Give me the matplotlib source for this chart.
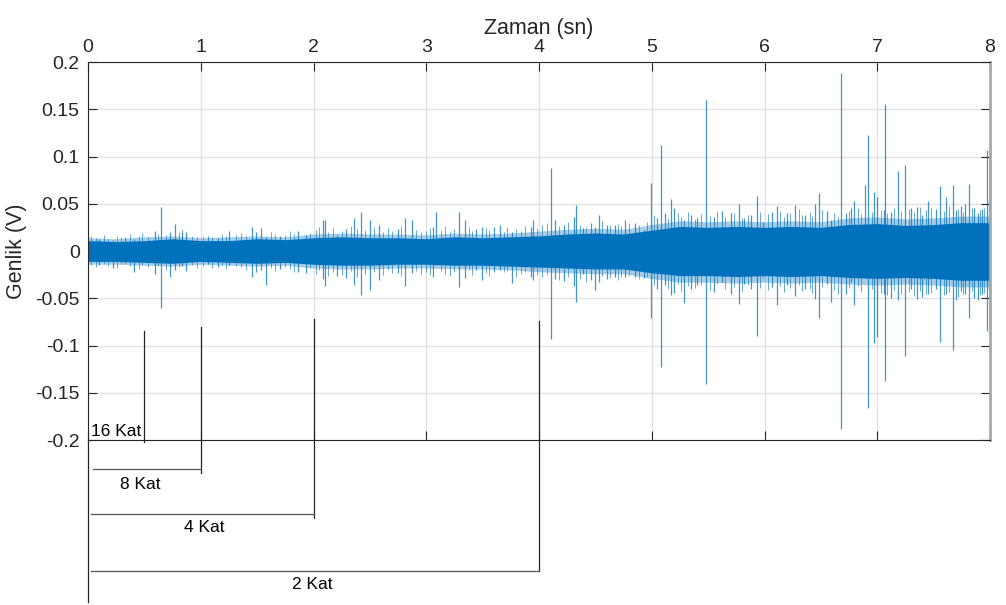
import numpy as np
import matplotlib
matplotlib.use("Agg")
import matplotlib.pyplot as plt

plt.rcParams["font.family"] = ["Liberation Sans", "DejaVu Sans"]

# ---- data ----
# dense core of the signal (upper / lower envelope), every 0.25 s
t_env = [0.0, 0.25, 0.5, 0.75, 1.0, 1.25, 1.5, 1.75, 2.0, 2.25, 2.5, 2.75, 3.0,
         3.25, 3.5, 3.75, 4.0, 4.25, 4.5, 4.75, 5.0, 5.25, 5.5, 5.75, 6.0, 6.25,
         6.5, 6.75, 7.0, 7.25, 7.5, 7.75, 8.0]
core_hi = [0.011, 0.010, 0.011, 0.013, 0.011, 0.011, 0.013, 0.012, 0.014, 0.015,
           0.014, 0.014, 0.013, 0.015, 0.014, 0.015, 0.016, 0.018, 0.019, 0.018,
           0.022, 0.026, 0.025, 0.026, 0.025, 0.026, 0.025, 0.028, 0.029, 0.027,
           0.028, 0.030, 0.030]
core_lo = [-0.011, -0.011, -0.012, -0.013, -0.011, -0.012, -0.013, -0.012, -0.014,
           -0.015, -0.015, -0.014, -0.014, -0.015, -0.015, -0.016, -0.017, -0.018,
           -0.019, -0.019, -0.023, -0.026, -0.026, -0.027, -0.026, -0.027, -0.026,
           -0.028, -0.029, -0.028, -0.029, -0.031, -0.031]
fringe_hi = [0.014, 0.013, 0.015, 0.016, 0.014, 0.015, 0.016, 0.015, 0.018, 0.019,
             0.018, 0.018, 0.017, 0.019, 0.018, 0.019, 0.021, 0.023, 0.024, 0.023,
             0.028, 0.032, 0.031, 0.032, 0.031, 0.032, 0.031, 0.035, 0.036, 0.034,
             0.035, 0.037, 0.037]
fringe_lo = [-0.014, -0.014, -0.015, -0.016, -0.014, -0.015, -0.016, -0.015, -0.018,
             -0.019, -0.019, -0.018, -0.018, -0.019, -0.019, -0.020, -0.022, -0.023,
             -0.024, -0.024, -0.029, -0.033, -0.033, -0.034, -0.033, -0.034, -0.033,
             -0.035, -0.036, -0.035, -0.036, -0.038, -0.038]

# short "grass" strokes around the core
grass_t = [0.03, 0.07, 0.14, 0.18, 0.26, 0.29, 0.37, 0.45, 0.48, 0.53, 0.62, 0.69, 0.81, 0.92, 0.97,
           1.02, 1.10, 1.19, 1.22, 1.31, 1.36, 1.40, 1.62, 1.66, 1.75, 1.79, 1.83, 1.97,
           2.02, 2.05, 2.13, 2.17, 2.25, 2.33, 2.39, 2.46, 2.54, 2.62, 2.66, 2.70, 2.78, 2.91, 2.95,
           3.00, 3.03, 3.13, 3.17, 3.21, 3.25, 3.38, 3.41, 3.53, 3.56, 3.69, 3.72, 3.80, 3.84, 3.88, 3.98,
           4.03, 4.07, 4.18, 4.26, 4.36, 4.42, 4.56, 4.63, 4.70, 4.73, 4.80, 4.89, 4.96,
           5.02, 5.14, 5.23, 5.26, 5.32, 5.38, 5.44, 5.52, 5.58, 5.65, 5.73, 5.80, 5.85, 5.96,
           6.03, 6.14, 6.17, 6.23, 6.31, 6.33, 6.40, 6.42, 6.51, 6.62, 6.65, 6.75, 6.83, 6.86, 6.95,
           7.03, 7.09, 7.15, 7.21, 7.28, 7.33, 7.38, 7.43, 7.48, 7.59, 7.64, 7.72, 7.76, 7.84, 7.91, 7.95]
grass_top = [0.016, 0.014, 0.017, 0.013, 0.016, 0.015, 0.018, 0.016, 0.019, 0.015, 0.018, 0.017, 0.020, 0.016, 0.015,
             0.016, 0.015, 0.018, 0.016, 0.017, 0.019, 0.016, 0.020, 0.018, 0.017, 0.021, 0.018, 0.019,
             0.022, 0.025, 0.020, 0.024, 0.021, 0.026, 0.023, 0.022, 0.025, 0.020, 0.024, 0.021, 0.026, 0.022, 0.020,
             0.021, 0.024, 0.022, 0.026, 0.020, 0.023, 0.025, 0.021, 0.024, 0.022, 0.020, 0.025, 0.023, 0.021, 0.026, 0.024,
             0.027, 0.030, 0.026, 0.031, 0.028, 0.025, 0.032, 0.027, 0.029, 0.026, 0.030, 0.028, 0.031,
             0.038, 0.035, 0.040, 0.036, 0.041, 0.034, 0.039, 0.037, 0.042, 0.036, 0.040, 0.035, 0.038, 0.041,
             0.039, 0.042, 0.036, 0.040, 0.044, 0.038, 0.041, 0.037, 0.043, 0.040, 0.036, 0.042, 0.045, 0.039, 0.041,
             0.043, 0.040, 0.046, 0.042, 0.044, 0.041, 0.047, 0.043, 0.045, 0.042, 0.048, 0.044, 0.041, 0.046, 0.043, 0.045]
grass_bot = [-0.015, -0.017, -0.014, -0.016, -0.018, -0.014, -0.016, -0.019, -0.015, -0.017, -0.016, -0.020, -0.017, -0.015, -0.018,
             -0.016, -0.018, -0.015, -0.019, -0.016, -0.017, -0.020, -0.018, -0.021, -0.017, -0.019, -0.022, -0.018,
             -0.024, -0.020, -0.026, -0.022, -0.025, -0.021, -0.027, -0.024, -0.022, -0.025, -0.020, -0.023, -0.026, -0.021, -0.024,
             -0.022, -0.025, -0.021, -0.024, -0.026, -0.022, -0.020, -0.025, -0.023, -0.026, -0.022, -0.021, -0.027, -0.024, -0.022, -0.025,
             -0.028, -0.025, -0.031, -0.027, -0.030, -0.033, -0.026, -0.029, -0.031, -0.027, -0.025, -0.030, -0.028,
             -0.036, -0.040, -0.035, -0.042, -0.037, -0.039, -0.036, -0.041, -0.035, -0.040, -0.038, -0.042, -0.036, -0.039,
             -0.041, -0.037, -0.043, -0.039, -0.036, -0.042, -0.040, -0.044, -0.038, -0.041, -0.045, -0.039, -0.037, -0.043, -0.040,
             -0.044, -0.047, -0.041, -0.045, -0.043, -0.048, -0.042, -0.046, -0.044, -0.047, -0.043, -0.049, -0.045, -0.042, -0.047, -0.044]

# single spikes: time, peak above zero, peak below zero
spike_t = [0.10, 0.22, 0.33, 0.41, 0.59, 0.65, 0.73, 0.77, 0.83, 0.87, 1.06, 1.15,
           1.25, 1.45, 1.49, 1.53, 1.58, 1.70, 1.86, 1.93,
           2.08, 2.10, 2.21, 2.29, 2.36, 2.42, 2.50, 2.58, 2.75, 2.81, 2.87, 3.06,
           3.09, 3.29, 3.34, 3.44, 3.49, 3.60, 3.65, 3.76, 3.93, 3.95,
           4.11, 4.14, 4.22, 4.31, 4.33, 4.39, 4.46, 4.50, 4.53, 4.60, 4.67, 4.76,
           4.85, 4.93, 4.99, 5.05, 5.08, 5.12, 5.17, 5.20, 5.29, 5.35, 5.40, 5.48,
           5.55, 5.62, 5.70, 5.77, 5.82, 5.88, 5.93, 5.99,
           6.07, 6.11, 6.20, 6.27, 6.36, 6.45, 6.48, 6.55, 6.59, 6.68, 6.72, 6.77,
           6.79, 6.89, 6.92, 6.97, 7.00, 7.06, 7.07, 7.12, 7.18, 7.25, 7.30, 7.35,
           7.40, 7.45, 7.52, 7.56, 7.61, 7.67, 7.70, 7.74, 7.78, 7.81, 7.86, 7.89,
           7.93, 7.97, 7.995]
spike_top = [0.013, 0.012, 0.015, 0.013, 0.0215, 0.047, 0.0196, 0.0286, 0.022, 0.020,
             0.016, 0.014, 0.021, 0.025, 0.020, 0.024, 0.015, 0.016, 0.021, 0.017,
             0.0325, 0.0325, 0.017, 0.023, 0.035, 0.0416, 0.033, 0.028, 0.023, 0.035,
             0.033, 0.025, 0.0416, 0.0416, 0.033, 0.023, 0.0257, 0.0257, 0.0275,
             0.0205, 0.025, 0.033,
             0.0875, 0.033, 0.027, 0.036, 0.0487, 0.024, 0.0296, 0.025, 0.038, 0.027,
             0.0275, 0.033, 0.030, 0.022, 0.0716, 0.0346, 0.112, 0.040, 0.0547, 0.045,
             0.033, 0.038, 0.035, 0.160, 0.036, 0.042, 0.040, 0.0497, 0.035, 0.038,
             0.058, 0.031,
             0.0416, 0.0476, 0.040, 0.049, 0.038, 0.0497, 0.061, 0.042, 0.033, 0.1887,
             0.040, 0.045, 0.053, 0.070, 0.1228, 0.0628, 0.0575, 0.043, 0.1556, 0.041,
             0.085, 0.091, 0.046, 0.047, 0.038, 0.053, 0.044, 0.0688, 0.057, 0.0695,
             0.043, 0.048, 0.050, 0.0705, 0.046, 0.040, 0.044, 0.107, 0.054]
spike_bot = [-0.015, -0.018, -0.013, -0.022, -0.024, -0.060, -0.027, -0.020, -0.016,
             -0.021, -0.014, -0.017, -0.015, -0.027, -0.022, -0.020, -0.036, -0.019,
             -0.022, -0.023,
             -0.030, -0.037, -0.0265, -0.029, -0.036, -0.0466, -0.041, -0.031, -0.0236,
             -0.037, -0.0236, -0.027, -0.0148, -0.038, -0.029, -0.020, -0.031, -0.022,
             -0.020, -0.0335, -0.027, -0.031,
             -0.0934, -0.030, -0.032, -0.037, -0.0536, -0.024, -0.031, -0.041, -0.033,
             -0.030, -0.027, -0.027, -0.028, -0.029, -0.0712, -0.040, -0.123, -0.036,
             -0.0466, -0.044, -0.0547, -0.040, -0.036, -0.1407, -0.043, -0.033, -0.045,
             -0.0564, -0.035, -0.040, -0.090, -0.027,
             -0.038, -0.057, -0.036, -0.048, -0.040, -0.051, -0.0712, -0.035, -0.0536,
             -0.1887, -0.045, -0.0325, -0.057, -0.029, -0.1665, -0.097, -0.0907, -0.045,
             -0.138, -0.050, -0.052, -0.111, -0.040, -0.051, -0.049, -0.045, -0.040,
             -0.096, -0.045, -0.1048, -0.052, -0.042, -0.045, -0.0712, -0.050, -0.052,
             -0.046, -0.085, -0.041]

x_ticks = [0, 1, 2, 3, 4, 5, 6, 7, 8]
y_ticks = [-0.2, -0.15, -0.1, -0.05, 0, 0.05, 0.1, 0.15, 0.2]
y_ticklabels = ["-0.2", "-0.15", "-0.1", "-0.05", "0", "0.05", "0.1", "0.15", "0.2"]

# brackets under the axes
kat_labels = ["16 Kat", "8 Kat", "4 Kat", "2 Kat"]
kat_x = [0.5, 1, 2, 4]

blue = "#0072BD"

fig = plt.figure(figsize=(10.06, 6.05), dpi=100)
ax = fig.add_axes([0.0875, 0.2727, 0.8966, 0.6248])

ax.fill_between(t_env, fringe_lo, fringe_hi, color=blue, alpha=0.35, lw=0)
ax.vlines(grass_t, grass_bot, grass_top, color=blue, lw=0.7, alpha=0.6)
ax.fill_between(t_env, core_lo, core_hi, color=blue, lw=0)
ax.vlines(spike_t, spike_bot, spike_top, color=blue, lw=0.9, alpha=0.75)

ax.set_xlim(0, 8)
ax.set_ylim(-0.2, 0.2)
ax.set_xticks(x_ticks)
ax.set_yticks(y_ticks)
ax.set_yticklabels(y_ticklabels)
ax.xaxis.tick_top()
ax.xaxis.set_label_position("top")
ax.tick_params(axis="both", which="both", direction="in", length=6.5, width=0.8,
               colors="#262626", labelsize=14, top=True, bottom=True, left=True,
               right=True, labeltop=True, labelbottom=False)
ax.tick_params(axis="x", pad=4)
ax.tick_params(axis="y", pad=6)
ax.set_xlabel("Zaman (sn)", fontsize=15.5, color="#262626", labelpad=4)
ax.set_ylabel("Genlik (V)", fontsize=15.5, color="#262626", labelpad=6)
ax.grid(True, color="#e3e3e3", lw=1.0)
ax.set_axisbelow(True)
for side in ["top", "left", "bottom"]:
    ax.spines[side].set_color("#262626")
    ax.spines[side].set_linewidth(0.8)
ax.spines["right"].set_color("#a8a8a8")
ax.spines["right"].set_linewidth(2.0)

# bracket lines
line_kw = dict(color="#262626", lw=0.9, clip_on=False)
ax.plot([0, 0], [-0.2, -0.371], **line_kw)
ax.plot([kat_x[0], kat_x[0]], [-0.0843, -0.2018], **line_kw)
ax.plot([kat_x[1], kat_x[1]], [-0.0801, -0.2352], **line_kw)
ax.plot([0.043, kat_x[1]], [-0.2304, -0.2304], color="#555555", lw=0.9, clip_on=False)
ax.plot([kat_x[2], kat_x[2]], [-0.0723, -0.2822], **line_kw)
ax.plot([0.024, kat_x[2]], [-0.278, -0.278], color="#555555", lw=0.9, clip_on=False)
ax.plot([kat_x[3], kat_x[3]], [-0.0738, -0.3383], **line_kw)
ax.plot([0.03, kat_x[3]], [-0.3383, -0.3383], color="#555555", lw=0.9, clip_on=False)

ax.text(0.027, -0.1905, kat_labels[0], fontsize=12.5, ha="left", va="center")
ax.text(0.466, -0.2466, kat_labels[1], fontsize=12.5, ha="center", va="center")
ax.text(1.03, -0.2931, kat_labels[2], fontsize=12.5, ha="center", va="center")
ax.text(1.99, -0.3524, kat_labels[3], fontsize=12.5, ha="center", va="center")

fig.savefig("out.png", dpi=100, facecolor="white")
